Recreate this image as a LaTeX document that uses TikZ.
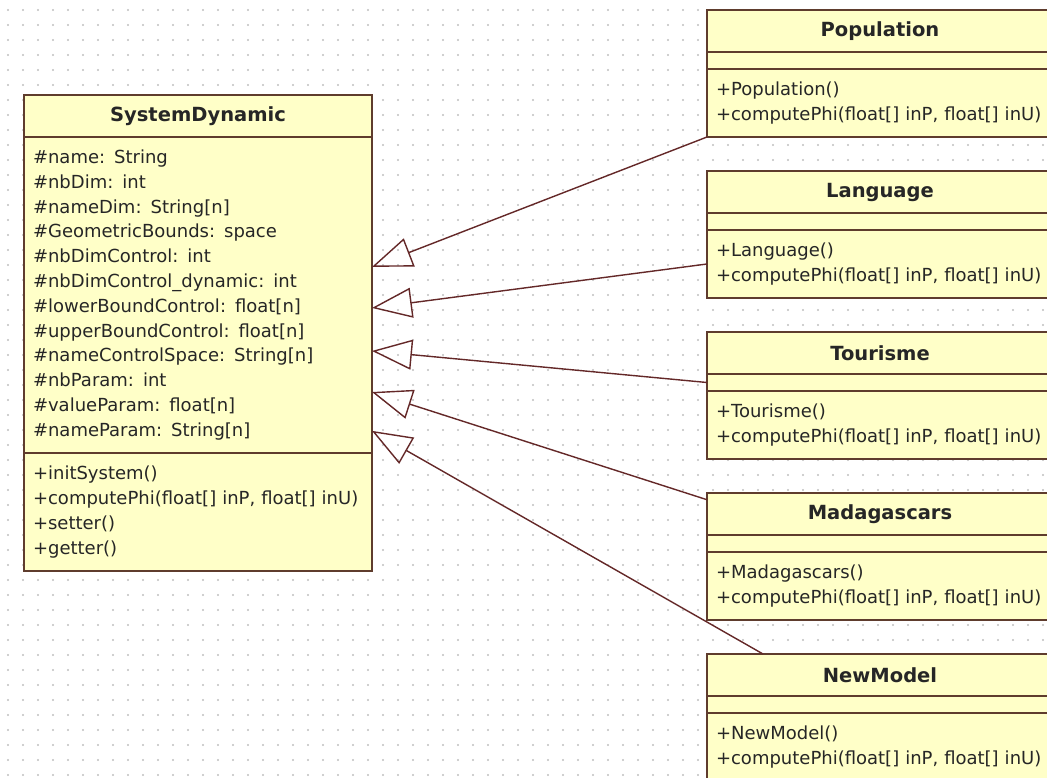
\documentclass[tikz,border=0pt]{standalone}
\usepackage{fontspec}
\setmainfont{DejaVu Sans}
\usetikzlibrary{positioning,arrows.meta,calc}
\definecolor{umlfill}{RGB}{255,255,200}
\definecolor{umlborder}{RGB}{95,60,45}
\definecolor{umlline}{RGB}{100,40,40}
\definecolor{griddot}{RGB}{192,192,192}
\newcommand{\umlfont}{\fontsize{18}{24.8}\selectfont}
\tikzset{
	classhead/.style={draw=umlborder,fill=umlfill,line width=1.6pt,inner sep=0pt,outer sep=0pt,minimum height=42pt,font=\fontsize{19.5}{24.8}\selectfont\bfseries,text=black!85},
	classpart/.style={draw=umlborder,fill=umlfill,line width=1.6pt,inner xsep=9pt,inner ysep=0pt,outer sep=0pt,align=left,font=\umlfont,text=black!85},
	inherit/.style={draw=umlline,line width=1.4pt,-{Triangle[open,length=40pt,width=30pt]}}
}

\begin{document}
\begin{tikzpicture}[x=1pt,y=-1pt]
	\useasboundingbox (0,0) rectangle (1047,778);
	\clip (0,0) rectangle (1047,778);
	\fill[white] (0,0) rectangle (1047,778);
	\foreach \gx in {8,23,...,1043}
		\foreach \gy in {10,25,...,775}
			\fill[griddot] (\gx,\gy) circle (1.2pt);
	\node[classhead,anchor=north west,minimum width=348pt] (sdHead) at (24,95) {SystemDynamic};
	\node[classpart,below=0pt of sdHead,text width=330pt,minimum height=316pt] (sdAttr) {\#name: String\\\#nbDim: int\\\#nameDim: String[n]\\\#GeometricBounds: space\\\#nbDimControl: int\\\#nbDimControl\_dynamic: int\\\#lowerBoundControl: float[n]\\\#upperBoundControl: float[n]\\\#nameControlSpace: String[n]\\\#nbParam: int\\\#valueParam: float[n]\\\#nameParam: String[n]};
	\node[classpart,below=0pt of sdAttr,text width=330pt,minimum height=118pt] (sdMeth) {+initSystem()\\+computePhi(float[] inP, float[] inU)\\+setter()\\+getter()};
	\foreach \cname [count=\ci from 0] in {Population,Language,Tourisme,Madagascars,NewModel}{
		\node[classhead,anchor=north west,minimum width=346pt] (\cname) at (707,{10+161*\ci}) {\cname};
		\node[classpart,below=0pt of \cname,text width=328pt,minimum height=17pt] (e\cname) {};
		\node[classpart,below=0pt of e\cname,text width=328pt,minimum height=68pt] (m\cname) {+\cname()\\+computePhi(float[] inP, float[] inU)};
	}
	\draw[inherit] (mPopulation.south west) -- ($(sdAttr.north east)!0.411!(sdAttr.south east)$);
	\draw[inherit] (mLanguage.west) -- ($(sdAttr.north east)!0.541!(sdAttr.south east)$);
	\draw[inherit] (eTourisme.west) -- ($(sdAttr.north east)!0.677!(sdAttr.south east)$);
	\draw[inherit] ($(Madagascars.north west)!0.16!(Madagascars.south west)$) -- ($(sdAttr.north east)!0.807!(sdAttr.south east)$);
	\draw[inherit] ($(NewModel.north west)+(56,0)$) -- ($(sdAttr.north east)!0.930!(sdAttr.south east)$);
\end{tikzpicture}
\end{document}
